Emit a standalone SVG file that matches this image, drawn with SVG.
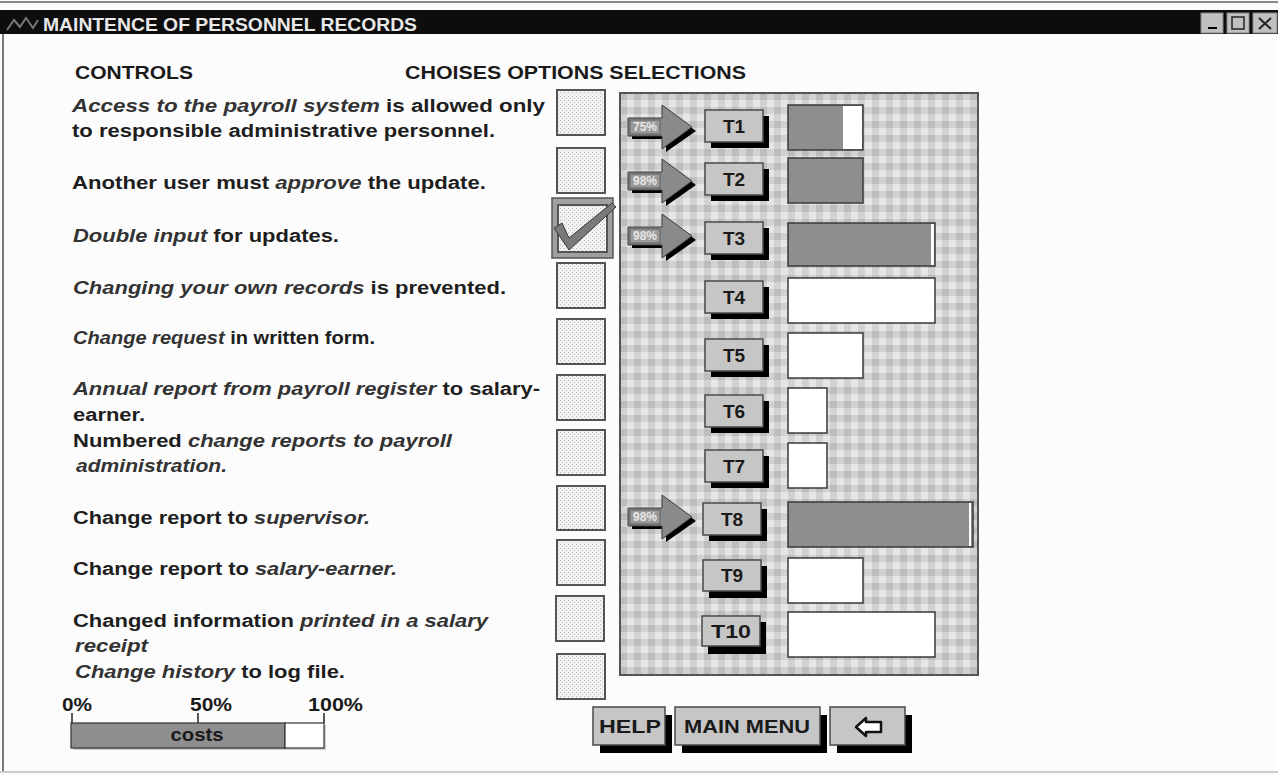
<svg xmlns="http://www.w3.org/2000/svg" width="1278" height="775" viewBox="0 0 1278 775">
<style>
.t{font-family:"Liberation Sans",Arial,sans-serif;font-weight:bold;font-size:18px;fill:#1e1e1e}
.i{font-style:italic;fill:#333}
.hd{font-family:"Liberation Sans",Arial,sans-serif;font-weight:bold;font-size:18px;fill:#1a1a1a}
.cb{fill:url(#dots);stroke:#555;stroke-width:2}
.btn{fill:#c6c6c6;stroke:#4a4a4a;stroke-width:1.5}
.sh{fill:#000}
.bl{font-family:"Liberation Sans",Arial,sans-serif;font-weight:bold;font-size:19px;fill:#1a1a1a;text-anchor:middle}
.bar{stroke:#3a3a3a;stroke-width:1.5}
.g{fill:#8e8e8e}
.w{fill:#fff}
.al{font-family:"Liberation Sans",Arial,sans-serif;font-weight:bold;font-size:12px;fill:#e8e8e8}
</style>
<defs>
<pattern id="ging" x="620" y="93" width="14" height="14" patternUnits="userSpaceOnUse">
<rect width="14" height="14" fill="#e6e6e6"/>
<rect width="7" height="14" fill="#d2d2d2"/>
<rect width="14" height="7" fill="#d2d2d2"/>
<rect width="7" height="7" fill="#bdbdbd"/>
</pattern>
<pattern id="dots" width="4" height="4" patternUnits="userSpaceOnUse">
<rect width="4" height="4" fill="#f2f2f2"/>
<rect x="0" y="0" width="1" height="1" fill="#b8b8b8"/>
<rect x="2" y="2" width="1" height="1" fill="#c8c8c8"/>
</pattern>
<g id="arrowShape">
<path d="M4 -5 H38 V-18 L68 4 L38 25 V12 H4 Z" fill="#000"/>
<path d="M0 -9 H34 V-22 L64 0 L34 22 V9 H0 Z" fill="#8a8a8a" stroke="#3a3a3a" stroke-width="1"/>
<rect x="2" y="-7" width="30" height="14" fill="#9a9a9a" stroke="#555" stroke-width="0.8"/>
</g>
</defs>

<!-- window -->
<rect x="0" y="0" width="1278" height="775" fill="#fcfcfc"/>
<line x1="0" y1="2" x2="1278" y2="2" stroke="#888" stroke-width="2"/>
<line x1="3" y1="10" x2="3" y2="772" stroke="#777" stroke-width="2"/>
<line x1="0" y1="772" x2="1278" y2="772" stroke="#ccc" stroke-width="2"/>

<g id="titlebar">
<rect x="0" y="10" width="1278" height="24" fill="#0d0d0d"/>
<path d="M7 30 L14 20 L20 27 L26 18 L33 28 L38 20" fill="none" stroke="#777" stroke-width="2"/>
<text x="43" y="31" font-family="'Liberation Sans',Arial,sans-serif" font-weight="bold" font-size="18" fill="#e8e8e8" textLength="374" lengthAdjust="spacingAndGlyphs">MAINTENCE OF PERSONNEL RECORDS</text>
<rect x="1201" y="13" width="22" height="20" fill="#c0c0c0" stroke="#888"/>
<rect x="1208" y="27" width="9" height="2" fill="#000"/>
<rect x="1227" y="13" width="22" height="20" fill="#c0c0c0" stroke="#888"/>
<rect x="1232" y="17" width="12" height="12" fill="none" stroke="#222" stroke-width="1.5"/>
<rect x="1253" y="13" width="24" height="20" fill="#c0c0c0" stroke="#888"/>
<path d="M1259 18 L1271 29 M1271 18 L1259 29" stroke="#222" stroke-width="2"/>
</g>

<g id="headers">
<text class="hd" x="75" y="79" textLength="118" lengthAdjust="spacingAndGlyphs">CONTROLS</text>
<text class="hd" x="405" y="79" textLength="341" lengthAdjust="spacingAndGlyphs">CHOISES OPTIONS SELECTIONS</text>
</g>

<g id="controls">
<text class="t" x="72" y="112" textLength="473" lengthAdjust="spacingAndGlyphs"><tspan class="i">Access to the payroll system</tspan> is allowed only</text>
<text class="t" x="72" y="137" textLength="423" lengthAdjust="spacingAndGlyphs">to responsible administrative personnel.</text>
<text class="t" x="72" y="189" textLength="414" lengthAdjust="spacingAndGlyphs">Another user must <tspan class="i">approve</tspan> the update.</text>
<text class="t" x="73" y="242" textLength="266" lengthAdjust="spacingAndGlyphs"><tspan class="i">Double input</tspan> for updates.</text>
<text class="t" x="73" y="294" textLength="433" lengthAdjust="spacingAndGlyphs"><tspan class="i">Changing your own records</tspan> is prevented.</text>
<text class="t" x="73" y="344" textLength="302" lengthAdjust="spacingAndGlyphs"><tspan class="i">Change request</tspan> in written form.</text>
<text class="t" x="73" y="395" textLength="467" lengthAdjust="spacingAndGlyphs"><tspan class="i">Annual report from payroll register</tspan> to salary-</text>
<text class="t" x="73" y="421" textLength="72" lengthAdjust="spacingAndGlyphs">earner.</text>
<text class="t" x="73" y="447" textLength="379" lengthAdjust="spacingAndGlyphs">Numbered <tspan class="i">change reports to payroll</tspan></text>
<text class="t i" x="76" y="472" textLength="151" lengthAdjust="spacingAndGlyphs">administration.</text>
<text class="t" x="73" y="524" textLength="297" lengthAdjust="spacingAndGlyphs">Change report to <tspan class="i">supervisor.</tspan></text>
<text class="t" x="73" y="575" textLength="324" lengthAdjust="spacingAndGlyphs">Change report to <tspan class="i">salary-earner.</tspan></text>
<text class="t" x="73" y="627" textLength="415" lengthAdjust="spacingAndGlyphs">Changed information <tspan class="i">printed in a salary</tspan></text>
<text class="t i" x="75" y="652" textLength="73" lengthAdjust="spacingAndGlyphs">receipt</text>
<text class="t" x="75" y="678" textLength="270" lengthAdjust="spacingAndGlyphs"><tspan class="i">Change history</tspan> to log file.</text>
</g>

<g id="checkboxes">
<rect class="cb" x="557" y="90" width="48" height="45"/>
<rect class="cb" x="557" y="148" width="48" height="45"/>
<g id="checked">
<rect x="552" y="198" width="61" height="60" fill="#a0a0a0" stroke="#555" stroke-width="1.5"/>
<rect class="cb" x="558" y="205" width="49" height="47"/>
<path d="M554 228 L562 223 L569 238 L612 203 L616 207 L569 250 Z" fill="#7a7a7a" stroke="#3a3a3a" stroke-width="1"/>
</g>
<rect class="cb" x="557" y="263" width="48" height="45"/>
<rect class="cb" x="557" y="319" width="48" height="45"/>
<rect class="cb" x="557" y="375" width="48" height="45"/>
<rect class="cb" x="557" y="430" width="48" height="45"/>
<rect class="cb" x="557" y="486" width="48" height="44"/>
<rect class="cb" x="557" y="540" width="48" height="45"/>
<rect class="cb" x="556" y="596" width="48" height="45"/>
<rect class="cb" x="557" y="654" width="48" height="45"/>
</g>

<g id="panel">
<rect x="620" y="93" width="358" height="582" fill="url(#ging)" stroke="#555" stroke-width="2"/>
</g>

<g id="arrows">
<g transform="translate(628,127)"><use href="#arrowShape"/><text class="al" x="17" y="4" text-anchor="middle">75%</text></g>
<g transform="translate(628,181)"><use href="#arrowShape"/><text class="al" x="17" y="4" text-anchor="middle">98%</text></g>
<g transform="translate(628,236)"><use href="#arrowShape"/><text class="al" x="17" y="4" text-anchor="middle">98%</text></g>
<g transform="translate(628,517)"><use href="#arrowShape"/><text class="al" x="17" y="4" text-anchor="middle">98%</text></g>
</g>

<g id="T1"><rect class="sh" x="711" y="116" width="58" height="32"/><rect class="btn" x="705" y="110" width="58" height="32"/><text class="bl" x="734" y="133">T1</text>
<rect class="bar g" x="788" y="105" width="75" height="45"/><rect class="w" x="843" y="106" width="19" height="43"/></g>
<g id="T2"><rect class="sh" x="711" y="169" width="58" height="32"/><rect class="btn" x="705" y="163" width="58" height="32"/><text class="bl" x="734" y="186">T2</text>
<rect class="bar g" x="788" y="158" width="75" height="45"/></g>
<g id="T3"><rect class="sh" x="711" y="228" width="58" height="32"/><rect class="btn" x="705" y="222" width="58" height="32"/><text class="bl" x="734" y="245">T3</text>
<rect class="bar g" x="788" y="223" width="147" height="43"/><rect class="w" x="931" y="224" width="3" height="41"/></g>
<g id="T4"><rect class="sh" x="711" y="287" width="58" height="32"/><rect class="btn" x="705" y="281" width="58" height="32"/><text class="bl" x="734" y="304">T4</text>
<rect class="bar w" x="788" y="278" width="147" height="45"/></g>
<g id="T5"><rect class="sh" x="711" y="345" width="58" height="32"/><rect class="btn" x="705" y="339" width="58" height="32"/><text class="bl" x="734" y="362">T5</text>
<rect class="bar w" x="788" y="333" width="75" height="45"/></g>
<g id="T6"><rect class="sh" x="711" y="401" width="58" height="32"/><rect class="btn" x="705" y="395" width="58" height="32"/><text class="bl" x="734" y="418">T6</text>
<rect class="bar w" x="788" y="388" width="39" height="45"/></g>
<g id="T7"><rect class="sh" x="711" y="456" width="58" height="32"/><rect class="btn" x="705" y="450" width="58" height="32"/><text class="bl" x="734" y="473">T7</text>
<rect class="bar w" x="788" y="443" width="39" height="45"/></g>
<g id="T8"><rect class="sh" x="709" y="509" width="58" height="32"/><rect class="btn" x="703" y="503" width="58" height="32"/><text class="bl" x="732" y="526">T8</text>
<rect class="bar g" x="788" y="502" width="185" height="45"/><rect class="w" x="969" y="503" width="2" height="43"/></g>
<g id="T9"><rect class="sh" x="709" y="566" width="58" height="32"/><rect class="btn" x="703" y="560" width="58" height="31"/><text class="bl" x="732" y="582">T9</text>
<rect class="bar w" x="788" y="558" width="75" height="45"/></g>
<g id="T10"><rect class="sh" x="708" y="622" width="58" height="32"/><rect class="btn" x="702" y="616" width="58" height="30"/><text class="bl" x="731" y="638" textLength="40" lengthAdjust="spacingAndGlyphs">T10</text>
<rect class="bar w" x="788" y="612" width="147" height="45"/></g>

<g id="costs">
<text class="hd" x="62" y="711" font-size="17" textLength="30" lengthAdjust="spacingAndGlyphs">0%</text>
<text class="hd" x="190" y="711" font-size="17" textLength="42" lengthAdjust="spacingAndGlyphs">50%</text>
<text class="hd" x="308" y="711" font-size="17" textLength="55" lengthAdjust="spacingAndGlyphs">100%</text>
<path d="M72 713 V723 M198 713 V723 M324 713 V723" stroke="#222" stroke-width="1.5"/>
<rect x="73" y="725" width="253" height="25" fill="#ccc"/>
<rect x="71" y="723" width="214" height="25" fill="#8e8e8e" stroke="#333" stroke-width="1.2"/>
<rect x="285" y="723" width="39" height="25" fill="#fff" stroke="#333" stroke-width="1.2"/>
<text class="bl" x="197" y="741" font-size="17" textLength="53" lengthAdjust="spacingAndGlyphs">costs</text>
</g>

<g id="help"><rect class="sh" x="600" y="715" width="72" height="38"/><rect class="btn" x="593" y="707" width="72" height="38"/><text class="bl" x="630" y="733" font-size="19" textLength="62" lengthAdjust="spacingAndGlyphs">HELP</text></g>
<g id="mainmenu"><rect class="sh" x="682" y="715" width="145" height="38"/><rect class="btn" x="675" y="707" width="145" height="38"/><text class="bl" x="747" y="733" font-size="19" textLength="126" lengthAdjust="spacingAndGlyphs">MAIN MENU</text></g>
<g id="back"><rect class="sh" x="837" y="715" width="75" height="38"/><rect class="btn" x="830" y="707" width="75" height="38"/>
<path d="M856 727 L866 718 V722 H881 V732 H866 V736 Z" fill="#fff" stroke="#111" stroke-width="2.5" stroke-linejoin="round"/></g>
</svg>
